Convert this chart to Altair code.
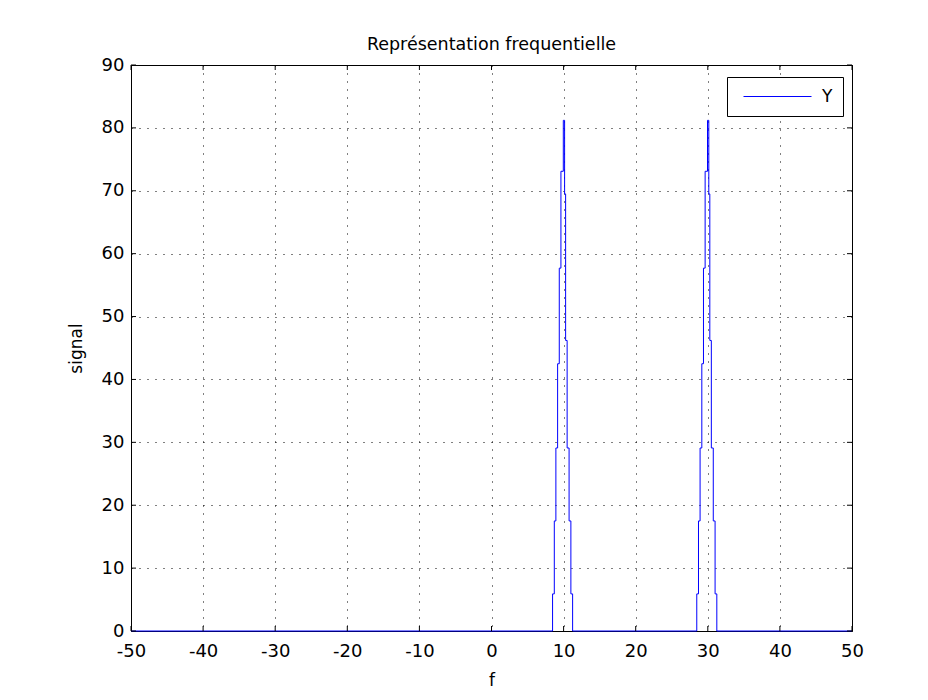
import altair as alt
import pandas as pd

# Spectrum |Y(f)| (stair-like line)
f_vals = [-50, 8.47, 8.71, 8.93, 9.17, 9.40, 9.63, 9.96, 10.14, 10.28, 10.49, 10.76, 11.01, 11.25,
          28.47, 28.71, 28.93, 29.17, 29.40, 29.63, 29.96, 30.14, 30.28, 30.49, 30.76, 31.01, 31.25, 50]
y_vals = [0, 5.9, 17.5, 29.1, 42.5, 57.7, 73.1, 81.2, 69.5, 46.2, 29.1, 17.5, 5.9, 0,
          5.9, 17.5, 29.1, 42.5, 57.7, 73.1, 81.2, 69.5, 46.2, 29.1, 17.5, 5.9, 0, 0]
series = ["Y"] * len(f_vals)

x_ticks = [-50, -40, -30, -20, -10, 0, 10, 20, 30, 40, 50]
y_ticks = [0, 10, 20, 30, 40, 50, 60, 70, 80, 90]

W, H = 721, 566
FONT = "DejaVu Sans"

df = pd.DataFrame({"f": f_vals, "signal": y_vals, "serie": series})
df_xt = pd.DataFrame({"f": x_ticks})
df_yt = pd.DataFrame({"signal": y_ticks})

xs = alt.Scale(domain=[-50, 50], nice=False, zero=False)
ys = alt.Scale(domain=[0, 90], nice=False, zero=False)

grid_kw = dict(grid=True, gridColor="black", gridDash=[1, 7], gridOpacity=1, gridWidth=1,
               domain=False, ticks=False, labelColor="black", titleColor="black",
               labelFont=FONT, titleFont=FONT, labelFontSize=18, titleFontSize=17,
               titleFontWeight="normal", labelFlush=False, labelOverlap=False,
               labelExpr="'' + datum.value")

line = alt.Chart(df).mark_line(interpolate="step-after", strokeWidth=1).encode(
    x=alt.X("f:Q", scale=xs,
            axis=alt.Axis(values=x_ticks, title="f", labelPadding=11, titlePadding=12, **grid_kw)),
    y=alt.Y("signal:Q", scale=ys,
            axis=alt.Axis(values=y_ticks, title="signal", labelPadding=7, titlePadding=16, **grid_kw)),
    color=alt.Color("serie:N", scale=alt.Scale(domain=["Y"], range=["#0000ff"]),
                    legend=alt.Legend(title=None, orient="none", legendX=596, legendY=12,
                                      symbolType="stroke", symbolSize=4624, symbolStrokeWidth=1,
                                      clipHeight=19, padding=10, symbolOffset=6, labelOffset=10,
                                      labelFont=FONT, labelFontSize=17, labelColor="black",
                                      strokeColor="black", fillColor="white", cornerRadius=0)),
)

tick_b = alt.Chart(df_xt).mark_rule(color="black", strokeWidth=1).encode(
    x=alt.X("f:Q", scale=xs), y=alt.value(H), y2=alt.value(H - 5))
tick_t = alt.Chart(df_xt).mark_rule(color="black", strokeWidth=1).encode(
    x=alt.X("f:Q", scale=xs), y=alt.value(0), y2=alt.value(5))
tick_l = alt.Chart(df_yt).mark_rule(color="black", strokeWidth=1).encode(
    y=alt.Y("signal:Q", scale=ys), x=alt.value(0), x2=alt.value(5))
tick_r = alt.Chart(df_yt).mark_rule(color="black", strokeWidth=1).encode(
    y=alt.Y("signal:Q", scale=ys), x=alt.value(W - 5), x2=alt.value(W))

chart = alt.layer(line, tick_b, tick_t, tick_l, tick_r).properties(
    width=W, height=H,
    title=alt.TitleParams("Représentation frequentielle", font=FONT, fontSize=17.5,
                          fontWeight="normal", color="black", anchor="middle",
                          baseline="alphabetic", offset=15, dy=26, frame="group"),
    autosize=alt.AutoSizeParams(type="none"),
    padding={"left": 123, "top": 57, "right": 68, "bottom": 61},
    background="white",
).configure_view(stroke="black", strokeWidth=1)

chart.save("out.html", embed_options={"renderer": "svg", "actions": False})
